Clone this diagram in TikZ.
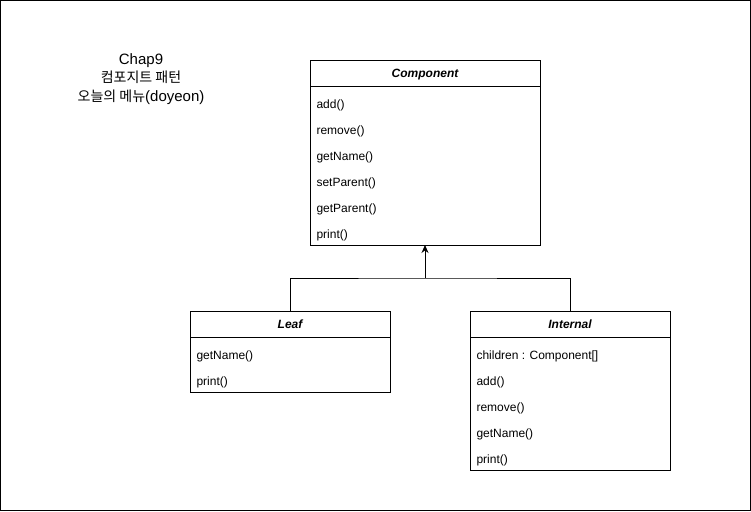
\documentclass[tikz,border=0pt]{standalone}
\usepackage{fontspec}
\setmainfont{Liberation Sans}
\newfontfamily\kr{Noto Sans CJK KR}
\usetikzlibrary{arrows.meta}
\begin{document}
\begin{tikzpicture}[x=1pt,y=-1pt,line width=1pt,
  cls/.style={draw,inner sep=0pt,outer sep=0pt,anchor=north west},
  ctitle/.style={font=\fontsize{12}{14}\selectfont\bfseries\itshape,inner sep=0pt,anchor=base},
  crow/.style={font=\fontsize{12}{14}\selectfont,inner sep=0pt,anchor=base west},
  ttl/.style={font=\fontsize{15}{18}\selectfont,inner sep=0pt,anchor=base},
  inh/.style={-{Stealth[length=8pt,width=7pt]}}]
\useasboundingbox (0,0) rectangle (751,511);
\node[draw,inner sep=0pt,outer sep=0pt,minimum width=750pt,minimum height=510pt,anchor=north west] (frame) at (0.5,0.5) {};
% title
\node[ttl] (t1) at (141,64) {Chap9};
\node[ttl] (t2) at (141,82.5) {\kr\fontsize{14}{16}\selectfont 컴포지트 패턴};
\node[ttl] (t3) at (141,101) {{\kr\fontsize{14}{16}\selectfont 오늘의 메뉴}(doyeon)};
% Component
\node[cls,minimum width=230pt,minimum height=185pt] (comp) at (310,60) {};
\draw ([yshift=-26pt]comp.north west) -- ([yshift=-26pt]comp.north east);
\node[ctitle] (compT) at ([yshift=-17pt]comp.north) {Component};
\node[crow] (c1) at ([shift={(6pt,-48pt)}]comp.north west) {add()};
\node[crow] (c2) at ([shift={(6pt,-74pt)}]comp.north west) {remove()};
\node[crow] (c3) at ([shift={(6pt,-100pt)}]comp.north west) {getName()};
\node[crow] (c4) at ([shift={(6pt,-126pt)}]comp.north west) {setParent()};
\node[crow] (c5) at ([shift={(6pt,-152pt)}]comp.north west) {getParent()};
\node[crow] (c6) at ([shift={(6pt,-178pt)}]comp.north west) {print()};
% Leaf
\node[cls,minimum width=200pt,minimum height=81pt] (leaf) at (190,311) {};
\draw ([yshift=-26pt]leaf.north west) -- ([yshift=-26pt]leaf.north east);
\node[ctitle] (leafT) at ([yshift=-17pt]leaf.north) {Leaf};
\node[crow] (l1) at ([shift={(6pt,-48pt)}]leaf.north west) {getName()};
\node[crow] (l2) at ([shift={(6pt,-74pt)}]leaf.north west) {print()};
% Internal
\node[cls,minimum width=200pt,minimum height=159pt] (int) at (470,311) {};
\draw ([yshift=-26pt]int.north west) -- ([yshift=-26pt]int.north east);
\node[ctitle] (intT) at ([yshift=-17pt]int.north) {Internal};
\node[crow] (i1) at ([shift={(6pt,-48pt)}]int.north west) {children : Component[]};
\node[crow] (i2) at ([shift={(6pt,-74pt)}]int.north west) {add()};
\node[crow] (i3) at ([shift={(6pt,-100pt)}]int.north west) {remove()};
\node[crow] (i4) at ([shift={(6pt,-126pt)}]int.north west) {getName()};
\node[crow] (i5) at ([shift={(6pt,-152pt)}]int.north west) {print()};
% connectors
\coordinate (j) at (425,278);
\draw (leaf.north) |- (j) -| (int.north);
\draw[inh] (j) -- (comp.south);
\end{tikzpicture}
\end{document}
